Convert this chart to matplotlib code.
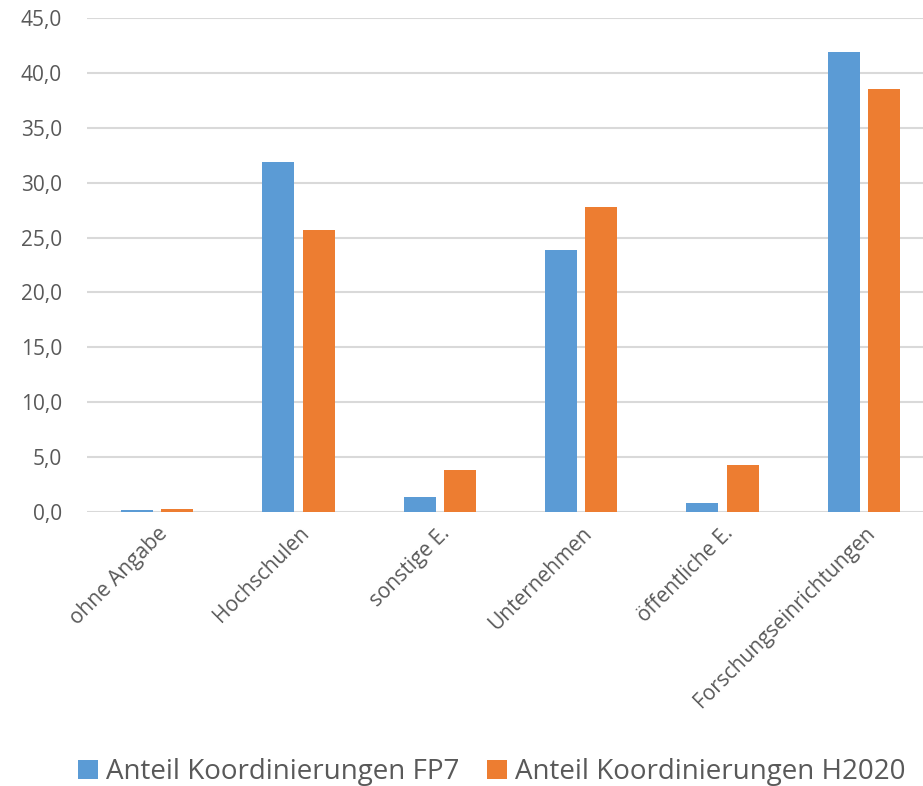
import numpy as np
import matplotlib.pyplot as plt

categories = ["ohne Angabe", "Hochschulen", "sonstige E.", "Unternehmen",
              "öffentliche E.", "Forschungseinrichtungen"]
fp7 = [0.15, 31.9, 1.4, 23.9, 0.8, 41.9]
h2020 = [0.3, 25.7, 3.8, 27.8, 4.25, 38.5]
yticks = [0, 5, 10, 15, 20, 25, 30, 35, 40, 45]

plt.rcParams['font.family'] = ['Open Sans', 'DejaVu Sans']
grey = "#595959"

fig = plt.figure(figsize=(9.23, 7.86), dpi=100)
ax = fig.add_axes([87 / 923, 1 - 512 / 786, 836 / 923, 494 / 786])

x = np.arange(len(categories))
w = 0.226
ax.bar(x - 0.143, fp7, w, color="#5B9BD5", label="Anteil Koordinierungen FP7", zorder=3)
ax.bar(x + 0.143, h2020, w, color="#ED7D31", label="Anteil Koordinierungen H2020", zorder=3)

ax.set_xlim(-0.495, 5.417)
ax.set_ylim(0, 45)
ax.set_yticks(yticks)
ax.set_yticklabels([f"{v:.1f}".replace(".", ",") for v in yticks], fontsize=15, color=grey)
ax.set_xticks(x)
ax.set_xticklabels(categories, rotation=45, ha="right", rotation_mode="anchor",
                   fontsize=15, color=grey)
ax.tick_params(axis="both", length=0)
ax.tick_params(axis="y", pad=18)
ax.tick_params(axis="x", pad=8)
ax.grid(axis="y", color="#d9d9d9", linewidth=1.5, zorder=0)
for s in ax.spines.values():
    s.set_visible(False)

fig.legend(loc="center", bbox_to_anchor=(0.533, 1 - 772 / 786), ncol=2, frameon=False,
           fontsize=20, labelcolor=grey, handlelength=0.7, handleheight=0.7,
           handletextpad=0.3, columnspacing=1.0)

fig.savefig("out.png", dpi=100)
